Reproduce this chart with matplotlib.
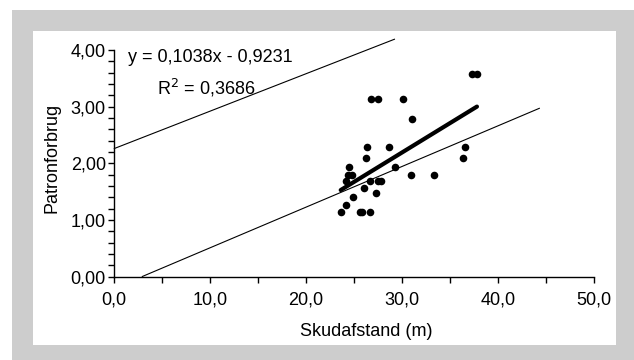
import matplotlib
matplotlib.use("Agg")
import matplotlib.pyplot as plt
from matplotlib.patches import Rectangle
import numpy as np

plt.rcParams['font.family'] = ['Liberation Sans', 'DejaVu Sans']

# Data
skudafstand = [26.8, 27.5, 30.1, 31.0, 26.3, 28.6, 26.2, 24.5, 29.3, 24.4,
               24.8, 30.9, 33.3, 24.2, 26.7, 27.5, 27.8, 26.0, 27.3, 24.9,
               24.1, 23.6, 25.6, 25.8, 26.7, 36.6, 36.3, 37.3, 37.8]
patronforbrug = [3.13, 3.13, 3.13, 2.78, 2.28, 2.28, 2.09, 1.93, 1.93, 1.80,
                 1.80, 1.80, 1.80, 1.69, 1.68, 1.68, 1.68, 1.57, 1.48, 1.40,
                 1.26, 1.14, 1.14, 1.14, 1.14, 2.28, 2.09, 3.57, 3.57]
trend_slope = 0.1038
trend_intercept = -0.9231
r_squared = 0.3686
upper_line_x = [0.0, 29.2]
upper_line_y = [2.26, 4.19]
lower_line_x = [2.92, 44.3]
lower_line_y = [0.0, 2.97]
x_ticks = [0, 10, 20, 30, 40, 50]
x_tick_labels = ["0,0", "10,0", "20,0", "30,0", "40,0", "50,0"]
y_ticks = [0, 1, 2, 3, 4]
y_tick_labels = ["0,00", "1,00", "2,00", "3,00", "4,00"]

W, H = 634, 360
fig = plt.figure(figsize=(W / 100, H / 100), dpi=100)
fig.patch.set_facecolor("white")

# Gray frame and white panel
fig.patches.append(Rectangle((12 / W, 0), (W - 12) / W, (H - 10) / H,
                             transform=fig.transFigure, facecolor="#cdcdcd",
                             edgecolor="none", zorder=-2))
fig.patches.append(Rectangle((33 / W, (H - 345) / H), (616 - 33) / W, (345 - 31) / H,
                             transform=fig.transFigure, facecolor="white",
                             edgecolor="none", zorder=-1))

ax = fig.add_axes([114.3 / W, (H - 276.5) / H, (594 - 114.3) / W, (276.5 - 50) / H])
ax.set_zorder(1)
ax.set_facecolor("none")
ax.set_xlim(0, 50)
ax.set_ylim(0, 4)
for s in ["top", "right"]:
    ax.spines[s].set_visible(False)
for s in ["left", "bottom"]:
    ax.spines[s].set_linewidth(1.0)

ax.set_xticks(x_ticks)
ax.set_xticklabels(x_tick_labels)
ax.set_xticks(np.arange(0, 50.1, 5), minor=True)
ax.set_yticks(y_ticks)
ax.set_yticklabels(y_tick_labels)
ax.set_yticks(np.arange(0, 4.01, 0.2), minor=True)
ax.tick_params(axis="both", which="both", direction="out", length=4, width=1.0,
               labelsize=13, colors="black")
ax.tick_params(axis="x", pad=7)
ax.tick_params(axis="y", pad=2)

ax.scatter(skudafstand, patronforbrug, s=30, color="black", zorder=3, linewidths=0)

xmin, xmax = min(skudafstand), max(skudafstand)
tx = np.array([xmin, xmax])
ax.plot(tx, trend_slope * tx + trend_intercept, color="black", lw=3.0,
        solid_capstyle="round", zorder=4)

ax.plot(upper_line_x, upper_line_y, color="black", lw=0.8, clip_on=False, zorder=2)
ax.plot(lower_line_x, lower_line_y, color="black", lw=0.8, clip_on=False, zorder=2)

fig.text(128 / W, 1 - 58 / H,
         "y = " + f"{trend_slope:.4f}".replace(".", ",") + "x - "
         + f"{-trend_intercept:.4f}".replace(".", ","),
         fontsize=13, va="center", ha="left")
fig.text(157 / W, 1 - 88 / H,
         "R$^2$ = " + f"{r_squared:.4f}".replace(".", ","),
         fontsize=13, va="center", ha="left")

fig.text(366 / W, 1 - 331 / H, "Skudafstand (m)", fontsize=13, ha="center", va="center")
fig.text(52 / W, 1 - 158 / H, "Patronforbrug", fontsize=13, ha="center", va="center",
         rotation=90)

fig.savefig("out.png", dpi=100)
